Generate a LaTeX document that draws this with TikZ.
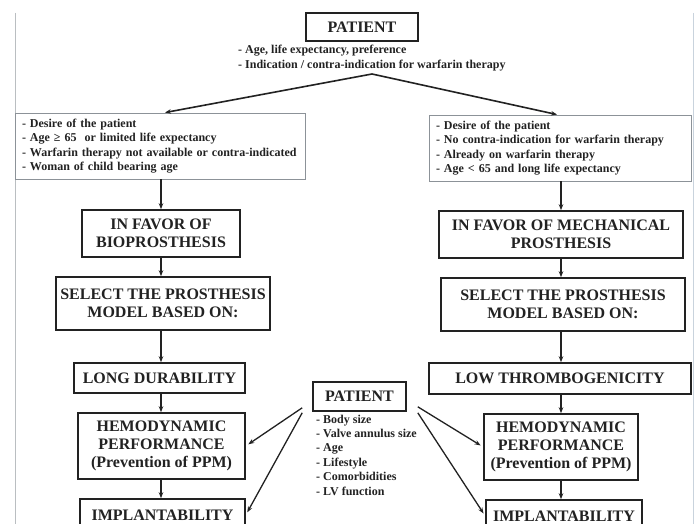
\documentclass[tikz,border=0pt]{standalone}
\usepackage{fontspec}
\setmainfont{Liberation Serif}
\usetikzlibrary{arrows.meta,calc}
\definecolor{ink}{HTML}{222222}
\definecolor{rim}{HTML}{8C9298}
\definecolor{edge}{HTML}{C9D3DD}

\begin{document}
\begin{tikzpicture}[x=1pt,y=-1pt,
  bigbox/.style={draw=ink,line width=1.6pt,text=ink,align=center,inner sep=2pt,
    font=\bfseries\fontsize{16}{18}\selectfont},
  critbox/.style={draw=rim,line width=0.9pt,text=ink,align=left,inner xsep=7pt,inner ysep=0pt,
    minimum height=66pt,font=\bfseries\fontsize{12}{14.5}\selectfont},
  items/.style={text=ink,align=left,inner sep=0pt,font=\bfseries\fontsize{12}{15}\selectfont},
  arr/.style={-{Stealth[length=6pt,width=4.5pt]},line width=1.3pt,draw=ink}]

\clip (0,0) rectangle (699,524);
\fill[white] (0,0) rectangle (699,524);
\draw[rim!60,line width=1pt] (15,13) -- (15,524);
\draw[edge,line width=1pt] (693,13) -- (693,524);

\node[bigbox,minimum width=112pt,minimum height=28pt] (pat) at (362,27) {PATIENT};
\node[items,anchor=west] (patlist) at (238,58.5) {- Age, life expectancy, preference\\- Indication / contra-indication for warfarin therapy};
\coordinate (apex) at (372,74);

\node[critbox,text width=276pt] (ldesire) at (160,146) {- Desire of the patient\\- Age ≥ 65\ \ or limited life expectancy\\- Warfarin therapy not available or contra-indicated\\- Woman of child bearing age};
\node[critbox,text width=248pt] (rdesire) at (560,148) {- Desire of the patient\\- No contra-indication for warfarin therapy\\- Already on warfarin therapy\\- Age < 65 and long life expectancy};

\node[bigbox,minimum width=158pt,minimum height=47pt] (lfavor) at (161,233.5) {IN FAVOR OF\\BIOPROSTHESIS};
\node[bigbox,minimum width=214pt,minimum height=53pt] (lselect) at (163,303.5) {SELECT THE PROSTHESIS\\MODEL BASED ON:};
\node[bigbox,minimum width=171pt,minimum height=30pt] (llong) at (159.5,378) {LONG DURABILITY};
\node[bigbox,minimum width=167pt,minimum height=66pt] (lhemo) at (161.5,446) {HEMODYNAMIC\\PERFORMANCE\\(Prevention of PPM)};
\node[bigbox,minimum width=165pt,minimum height=32pt] (limpl) at (162.5,515) {IMPLANTABILITY};

\node[bigbox,minimum width=244pt,minimum height=47pt] (rfavor) at (561,234.5) {IN FAVOR OF MECHANICAL\\PROSTHESIS};
\node[bigbox,minimum width=244pt,minimum height=53pt] (rselect) at (563,304.5) {SELECT THE PROSTHESIS\\MODEL BASED ON:};
\node[bigbox,minimum width=262pt,minimum height=31pt] (rlow) at (560,378.5) {LOW THROMBOGENICITY};
\node[bigbox,minimum width=154pt,minimum height=66pt] (rhemo) at (561,447) {HEMODYNAMIC\\PERFORMANCE\\(Prevention of PPM)};
\node[bigbox,minimum width=156pt,minimum height=32pt] (rimpl) at (564,516) {IMPLANTABILITY};

\node[bigbox,minimum width=93pt,minimum height=29pt] (mpat) at (359.5,396.5) {PATIENT};
\node[items,anchor=west,font=\bfseries\fontsize{12}{14.4}\selectfont] (mlist) at (316,455) {- Body size\\- Valve annulus size\\- Age\\- Lifestyle\\- Comorbidities\\- LV function};

\draw[arr,line width=1.6pt] (apex) -- ([xshift=5pt]ldesire.north);
\draw[arr,line width=1.6pt] (apex) -- ([xshift=-3pt]rdesire.north);

\foreach \a/\b in {ldesire/lfavor,lfavor/lselect,lselect/llong,llong/lhemo,lhemo/limpl}
  \draw[arr] (lfavor.north |- \a.south) -- (lfavor.north |- \b.north);
\foreach \a/\b in {rdesire/rfavor,rfavor/rselect,rselect/rlow,rlow/rhemo,rhemo/rimpl}
  \draw[arr] (rfavor.north |- \a.south) -- (rfavor.north |- \b.north);

\draw[arr,shorten >=3pt] ($(mpat.south west)+(-10,-4)$) -- (lhemo.east);
\draw[arr,shorten >=3pt] ($(mpat.south west)+(-10,1)$) -- (limpl.east);
\draw[arr,shorten >=3pt] ($(mpat.south east)+(11,-5)$) -- (rhemo.west);
\draw[arr,shorten >=3pt] ($(mpat.south east)+(11,1)$) -- (rimpl.west);

\end{tikzpicture}
\end{document}
